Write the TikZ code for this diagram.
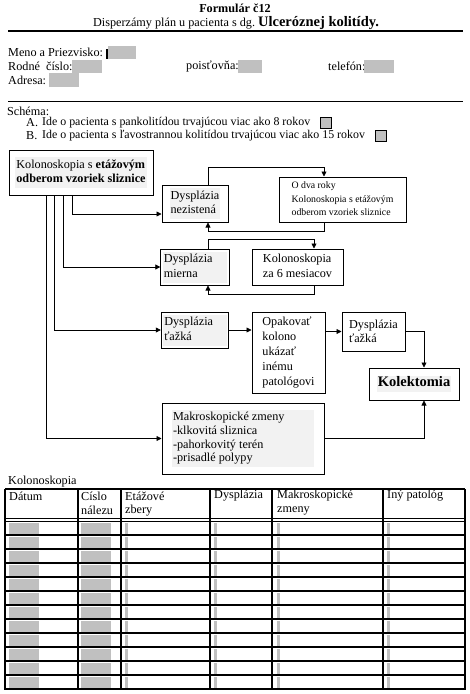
\documentclass[tikz,border=0pt]{standalone}
\usepackage{fontspec}
\setmainfont{Liberation Serif}
\usetikzlibrary{arrows.meta}
\definecolor{formgray}{HTML}{C0C0C0}
\definecolor{textbg}{HTML}{F2F2F2}
\newcommand\shadedtxt[1]{{\setlength\fboxsep{1pt}\colorbox{textbg}{\begin{tabular}{@{}l@{}}#1\end{tabular}}}}
\newcommand\plaintxt[1]{\begin{tabular}{@{}l@{}}#1\end{tabular}}
\begin{document}
\begin{tikzpicture}[x=1pt,y=-1pt,font=\fontsize{12.2}{14.5}\selectfont,
    box/.style={draw,line width=1pt,fill=white,inner sep=2pt},
    lbl/.style={inner sep=0pt,anchor=west},
    arr/.style={-{Triangle[length=5pt,width=5pt]},line width=0.8pt},
    tab/.style={line width=1.1pt}]
    \useasboundingbox (0,0) rectangle (470,694);
    % hlavicka
    \node (title) at (235,8) [inner sep=0pt] {\textbf{Formulár č12}};
    \node (sub) at (236,23) [inner sep=0pt] {Disperzámy plán u pacienta s dg.\ {\fontsize{14.5}{16}\selectfont\bfseries Ulceróznej kolitídy.}};
    \draw[line width=1.2pt] (8,31) -- (463,31);
    \node (meno) at (8,52.5) [lbl] {Meno a Priezvisko:};
    \fill (106,49) rectangle (107.6,59);
    \fill[formgray] (108,46) rectangle (136,59);
    \node (rc) at (8,66.5) [lbl] {Rodné\ \ číslo:};
    \fill[formgray] (72,60) rectangle (102,73);
    \node (poist) at (186,66.5) [lbl] {poisťovňa:};
    \fill[formgray] (238,60) rectangle (262,73);
    \node (tel) at (328,66.5) [lbl] {telefón:};
    \fill[formgray] (364,60) rectangle (394,73);
    \node (adr) at (8,80) [lbl] {Adresa:};
    \fill[formgray] (49,73) rectangle (79,87);
    \draw[line width=1pt] (8,101) -- (463,101);
    \node (schema) at (7,111) [lbl] {Schéma:};
    \node (la) at (26,123) [lbl] {A.};
    \node (ta) at (42,123) [lbl,font=\fontsize{11.9}{14}\selectfont] {Ide o pacienta s pankolitídou trvajúcou viac ako 8 rokov};
    \draw[fill=formgray,line width=0.8pt] (320,117.5) rectangle (331,128.5);
    \node (lb) at (26,135.5) [lbl] {B.};
    \node (tb) at (42,135.5) [lbl,font=\fontsize{11.9}{14}\selectfont] {Ide o pacienta s ľavostrannou kolitídou trvajúcou viac ako 15 rokov};
    \draw[fill=formgray,line width=0.8pt] (375,130) rectangle (386,141);
    % schema
    \node (k1) at (81,172.5) [box,minimum width=144,minimum height=45] {\shadedtxt{Kolonoskopia s \textbf{etážovým}\\\textbf{odberom vzoriek sliznice}}};
    \node (d1) at (195,203.5) [box,minimum width=66,minimum height=37] {\shadedtxt{Dysplázia\\nezistená}};
    \node (o2) at (342.5,199.5) [box,minimum width=127,minimum height=45,font=\fontsize{9.8}{13.5}\selectfont] {\plaintxt{O dva roky\\Kolonoskopia s etážovým\\odberom vzoriek sliznice}};
    \node (d2) at (195,267) [box,minimum width=66,minimum height=36] {\shadedtxt{Dysplázia\\mierna\hphantom{zisten}}};
    \node (k6) at (297.5,267) [box,minimum width=91,minimum height=36] {\plaintxt{Kolonoskopia\\za 6 mesiacov}};
    \node (d3) at (195,330) [box,minimum width=66,minimum height=36] {\shadedtxt{Dysplázia\\ťažká\hphantom{zistená}}};
    \node (op) at (288.5,352.5) [box,minimum width=73,minimum height=81,font=\fontsize{12.2}{15}\selectfont] {\plaintxt{Opakovať\\kolono\\ukázať\\inému\\patológovi}};
    \node (d4) at (373.5,331.5) [box,minimum width=63,minimum height=39] {\plaintxt{Dysplázia\\ťažká\\[-2pt]}};
    \node (kol) at (414,384) [box,minimum width=90,minimum height=32] {\shadedtxt{\fontsize{14.5}{16}\selectfont\bfseries Kolektomia}};
    \node (mk) at (243,438.5) [box,minimum width=162,minimum height=71,font=\fontsize{12.2}{13.6}\selectfont] {\shadedtxt{Makroskopické zmeny\hphantom{mmm}\\-klkovitá sliznica\\-pahorkovitý terén\\-prisadlé polypy}};
    \draw[arr] ([xshift=-9pt]k1.south) |- ([yshift=-10.5pt]d1.west);
    \draw[arr] ([xshift=-18pt]k1.south) |- (d2.west);
    \draw[arr] ([xshift=-27pt]k1.south) |- (d3.west);
    \draw[arr] ([xshift=-35pt]k1.south) |- (mk.west);
    \draw[arr] ([xshift=13pt]d1.north) -- ++(0,-17) -| ([xshift=-18.5pt]o2.north);
    \draw[arr] ([xshift=-18.5pt]o2.south) -- ++(0,9) -| ([xshift=13pt]d1.south);
    \draw[arr] ([xshift=13pt]d2.north) -- ++(0,-9) -| ([xshift=16.5pt]k6.north);
    \draw[arr] ([xshift=16.5pt]k6.south) -- ++(0,9) -| ([xshift=13pt]d2.south);
    \draw[arr] (d3.east) -- (d3.east -| op.west);
    \draw[arr] (d4.west -| op.east) -- (d4.west);
    \draw[arr] (d4.east) -| ([xshift=10pt]kol.north);
    \draw[arr] (mk.east) -| ([xshift=10pt]kol.south);
    % tabulka
    \node (kolo) at (8,482) [lbl] {Kolonoskopia};
    \foreach \r in {0,...,11}
      \foreach \a/\b in {9/39,81/111,125/128,214/217,277/280,387/390}
        \fill[formgray] (\a,{522.5+14*\r}) rectangle (\b,{533.5+14*\r});
    \draw[tab] (5,489) -- (465,489);
    \draw[line width=0.8pt] (5,518.8) -- (465,518.8);
    \draw[line width=0.8pt] (5,521.2) -- (465,521.2);
    \foreach \r in {1,...,12}
      \draw[tab] (5,{521+14*\r}) -- (465,{521+14*\r});
    \foreach \c in {5,78,121,210,272,383,465}
      \draw[tab] (\c,489) -- (\c,689.5);
    \node (h1) at (9,496) [lbl] {Dátum};
    \node (h2) at (81,496) [lbl] {Císlo};
    \node (h2b) at (81,510.5) [lbl] {nálezu};
    \node (h3) at (125,496) [lbl] {Etážové};
    \node (h3b) at (125,510.5) [lbl] {zbery};
    \node (h4) at (214,496) [lbl] {Dysplázia};
    \node (h5) at (277,496) [lbl] {Makroskopické};
    \node (h5b) at (277,510.5) [lbl] {zmeny};
    \node (h6) at (387,496) [lbl] {Iný patológ};
\end{tikzpicture}
\end{document}
